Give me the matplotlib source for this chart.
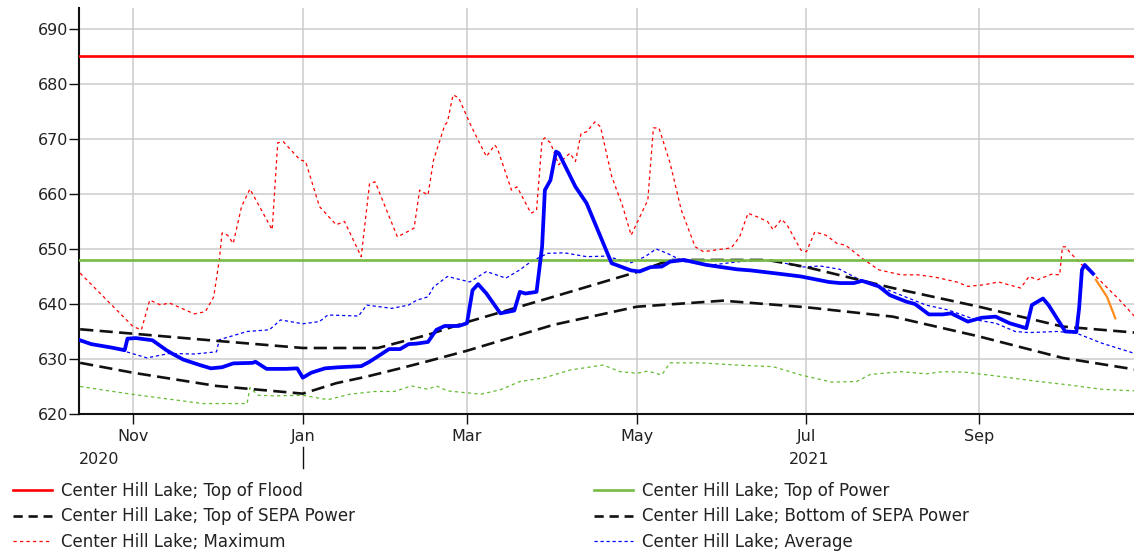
import matplotlib
matplotlib.use("Agg")
import matplotlib.pyplot as plt
import matplotlib.dates as mdates
import pandas as pd
from matplotlib.lines import Line2D
from matplotlib.transforms import blended_transform_factory

# ---------------- data ----------------
top_of_flood = 685.0
top_of_power = 648.0

sepa_top_dates = ["2020-10-13", "2020-11-01", "2020-12-01", "2021-01-01", "2021-01-28",
                  "2021-02-15", "2021-03-01", "2021-04-01", "2021-05-01", "2021-05-13",
                  "2021-06-17", "2021-07-01", "2021-08-01", "2021-09-01", "2021-10-01", "2021-10-27"]
sepa_top_vals = [635.4, 634.6, 633.3, 632.0, 632.0,
                 634.4, 636.7, 641.3, 645.8, 648.0,
                 648.0, 646.7, 642.9, 639.5, 635.9, 634.8]

sepa_bot_dates = ["2020-10-13", "2020-11-01", "2020-12-01", "2021-01-01", "2021-01-13",
                  "2021-01-24", "2021-02-05", "2021-02-15", "2021-03-01", "2021-04-01",
                  "2021-05-01", "2021-06-01", "2021-07-01", "2021-08-01", "2021-09-01",
                  "2021-10-01", "2021-10-27"]
sepa_bot_vals = [629.3, 627.5, 625.1, 623.7, 625.6,
                 626.8, 628.3, 629.6, 631.5, 636.2,
                 639.5, 640.6, 639.4, 637.7, 634.1,
                 630.2, 628.1]

max_dates = ["2020-10-13", "2020-11-01", "2020-11-04", "2020-11-07", "2020-11-11", "2020-11-14",
             "2020-11-23", "2020-11-27", "2020-11-30", "2020-12-02", "2020-12-03", "2020-12-05",
             "2020-12-07", "2020-12-10", "2020-12-13", "2020-12-21", "2020-12-23", "2020-12-25",
             "2020-12-31", "2021-01-02", "2021-01-07", "2021-01-13", "2021-01-16", "2021-01-22",
             "2021-01-25", "2021-01-27", "2021-02-04", "2021-02-09", "2021-02-10", "2021-02-12",
             "2021-02-15", "2021-02-17", "2021-02-19", "2021-02-21", "2021-02-22", "2021-02-24",
             "2021-02-26", "2021-03-02", "2021-03-05", "2021-03-08", "2021-03-11", "2021-03-12",
             "2021-03-17", "2021-03-19", "2021-03-24", "2021-03-26", "2021-03-28", "2021-03-29",
             "2021-03-31", "2021-04-03", "2021-04-05", "2021-04-07", "2021-04-09", "2021-04-11",
             "2021-04-13", "2021-04-16", "2021-04-18", "2021-04-22", "2021-04-26", "2021-04-29",
             "2021-05-05", "2021-05-07", "2021-05-09", "2021-05-13", "2021-05-17", "2021-05-22",
             "2021-05-25", "2021-06-04", "2021-06-07", "2021-06-10", "2021-06-13", "2021-06-17",
             "2021-06-19", "2021-06-22", "2021-06-24", "2021-06-29", "2021-07-01", "2021-07-04",
             "2021-07-08", "2021-07-12", "2021-07-15", "2021-07-21", "2021-07-27", "2021-08-04",
             "2021-08-10", "2021-08-16", "2021-08-24", "2021-08-28", "2021-09-03", "2021-09-08",
             "2021-09-16", "2021-09-19", "2021-09-22", "2021-09-27", "2021-09-30", "2021-10-01",
             "2021-10-02", "2021-10-04", "2021-10-08", "2021-10-13", "2021-10-21", "2021-10-27"]
max_vals = [645.6, 635.9, 635.3, 640.7, 639.8, 640.2,
            638.2, 638.6, 641.3, 648.0, 652.9, 652.5,
            651.0, 657.7, 660.9, 653.5, 669.3, 669.5,
            666.2, 665.9, 657.7, 654.4, 655.0, 648.6,
            661.9, 662.2, 652.2, 653.5, 653.8, 660.7,
            659.8, 666.2, 669.3, 672.5, 673.1, 678.0,
            677.5, 672.9, 669.8, 666.8, 668.9, 668.2,
            660.7, 661.3, 656.5, 657.0, 669.8, 670.2,
            669.3, 665.3, 666.5, 667.4, 665.9, 671.0,
            671.3, 673.1, 672.2, 663.2, 657.7, 652.5,
            658.9, 672.0, 672.0, 665.6, 657.1, 650.4,
            649.5, 650.2, 652.2, 656.5, 655.9, 655.0,
            653.5, 655.4, 654.4, 649.8, 649.5, 653.1,
            652.5, 651.0, 650.7, 648.3, 646.2, 645.3,
            645.3, 644.9, 644.0, 643.2, 643.5, 644.0,
            642.9, 645.0, 644.4, 645.4, 645.3, 650.4,
            650.4, 649.2, 647.1, 645.0, 641.0, 637.7]

avg_dates = ["2020-10-13", "2020-10-25", "2020-11-06", "2020-11-14", "2020-11-23", "2020-12-01",
             "2020-12-02", "2020-12-12", "2020-12-20", "2020-12-24", "2021-01-01", "2021-01-07",
             "2021-01-10", "2021-01-21", "2021-01-24", "2021-02-02", "2021-02-08", "2021-02-11",
             "2021-02-15", "2021-02-17", "2021-02-22", "2021-03-02", "2021-03-08", "2021-03-15",
             "2021-03-20", "2021-03-24", "2021-03-30", "2021-04-05", "2021-04-13", "2021-04-20",
             "2021-04-25", "2021-04-29", "2021-05-04", "2021-05-08", "2021-05-12", "2021-05-18",
             "2021-05-28", "2021-06-07", "2021-06-14", "2021-06-21", "2021-06-29", "2021-07-06",
             "2021-07-13", "2021-07-19", "2021-07-27", "2021-08-04", "2021-08-13", "2021-08-21",
             "2021-08-31", "2021-09-07", "2021-09-14", "2021-09-19", "2021-09-29", "2021-10-06",
             "2021-10-15", "2021-10-27"]
avg_vals = [633.2, 632.0, 630.2, 631.0, 630.9, 631.3,
            633.5, 635.0, 635.3, 637.1, 636.4, 636.8,
            638.0, 637.8, 639.8, 639.2, 639.8, 640.7,
            641.3, 643.1, 645.0, 644.0, 645.9, 644.7,
            646.2, 647.7, 649.2, 649.3, 648.6, 648.7,
            648.0, 647.5, 648.6, 650.0, 649.2, 647.7,
            647.1, 647.7, 648.0, 647.7, 646.7, 646.9,
            646.3, 644.7, 643.2, 641.6, 639.8, 638.9,
            637.1, 636.5, 635.0, 634.8, 635.0, 634.7,
            632.9, 631.0]

min_dates = ["2020-10-13", "2020-10-30", "2020-11-14", "2020-11-26", "2020-12-12", "2020-12-13",
             "2020-12-16", "2020-12-22", "2021-01-01", "2021-01-10", "2021-01-18", "2021-01-27",
             "2021-02-03", "2021-02-09", "2021-02-15", "2021-02-18", "2021-02-22", "2021-03-06",
             "2021-03-13", "2021-03-20", "2021-03-29", "2021-04-07", "2021-04-19", "2021-04-25",
             "2021-05-01", "2021-05-05", "2021-05-10", "2021-05-13", "2021-05-24", "2021-06-06",
             "2021-06-19", "2021-06-29", "2021-07-10", "2021-07-19", "2021-07-24", "2021-08-04",
             "2021-08-13", "2021-08-19", "2021-08-27", "2021-09-09", "2021-09-21", "2021-10-03",
             "2021-10-15", "2021-10-27"]
min_vals = [625.0, 623.7, 622.7, 621.9, 621.9, 624.8,
            623.4, 623.3, 623.4, 622.6, 623.6, 624.1,
            624.1, 625.1, 624.5, 625.1, 624.2, 623.6,
            624.4, 625.9, 626.6, 628.0, 628.9, 627.7,
            627.4, 627.8, 627.1, 629.3, 629.3, 628.9,
            628.6, 627.1, 625.8, 625.9, 627.2, 627.7,
            627.3, 627.7, 627.6, 626.8, 626.0, 625.3,
            624.5, 624.2]

obs_dates = ["2020-10-13", "2020-10-17", "2020-10-24", "2020-10-29", "2020-10-30", "2020-11-02",
             "2020-11-08", "2020-11-13", "2020-11-15", "2020-11-19", "2020-11-25", "2020-11-29",
             "2020-12-03", "2020-12-07", "2020-12-14", "2020-12-15", "2020-12-19", "2020-12-26",
             "2020-12-30", "2021-01-01", "2021-01-04", "2021-01-09", "2021-01-14", "2021-01-18",
             "2021-01-22", "2021-01-25", "2021-02-01", "2021-02-05", "2021-02-08", "2021-02-11",
             "2021-02-15", "2021-02-18", "2021-02-21", "2021-02-26", "2021-03-01", "2021-03-03",
             "2021-03-05", "2021-03-08", "2021-03-13", "2021-03-16", "2021-03-18", "2021-03-20",
             "2021-03-22", "2021-03-26", "2021-03-28", "2021-03-29", "2021-03-31", "2021-04-02",
             "2021-04-03", "2021-04-09", "2021-04-13", "2021-04-20", "2021-04-22", "2021-04-29",
             "2021-05-02", "2021-05-06", "2021-05-10", "2021-05-13", "2021-05-18", "2021-05-26",
             "2021-06-06", "2021-06-11", "2021-06-21", "2021-06-29", "2021-07-09", "2021-07-13",
             "2021-07-18", "2021-07-21", "2021-07-27", "2021-07-31", "2021-08-06", "2021-08-09",
             "2021-08-14", "2021-08-19", "2021-08-22", "2021-08-28", "2021-09-02", "2021-09-07",
             "2021-09-12", "2021-09-18", "2021-09-20", "2021-09-24", "2021-09-26", "2021-10-02",
             "2021-10-06", "2021-10-07", "2021-10-08", "2021-10-09", "2021-10-12"]
obs_vals = [633.4, 632.7, 632.1, 631.6, 633.7, 633.8,
            633.4, 631.6, 631.0, 629.9, 628.9, 628.3,
            628.5, 629.2, 629.3, 629.5, 628.2, 628.2,
            628.3, 626.6, 627.5, 628.3, 628.5, 628.6,
            628.7, 629.5, 631.8, 631.8, 632.7, 632.8,
            633.1, 635.3, 636.0, 636.0, 636.5, 642.5,
            643.6, 641.9, 638.3, 638.6, 638.8, 642.2,
            641.9, 642.2, 650.4, 660.7, 662.5, 667.7,
            667.4, 661.3, 658.3, 649.8, 647.4, 646.1,
            645.9, 646.7, 646.8, 647.7, 648.0, 647.1,
            646.3, 646.1, 645.5, 645.0, 644.0, 643.8,
            643.8, 644.2, 643.2, 641.6, 640.4, 640.0,
            638.1, 638.1, 638.3, 636.8, 637.5, 637.7,
            636.5, 635.6, 639.8, 641.0, 639.8, 635.0,
            634.9, 639.3, 646.2, 647.1, 645.5]

fcst_dates = ["2021-10-13", "2021-10-17", "2021-10-20"]
fcst_vals = [644.4, 641.3, 637.4]

y_ticks = [620, 630, 640, 650, 660, 670, 680, 690]
x_start = "2020-10-12 14:00"
x_end = "2021-10-26 17:00"

legend_left = ["Center Hill Lake; Top of Flood", "Center Hill Lake; Top of SEPA Power",
               "Center Hill Lake; Maximum"]
legend_right = ["Center Hill Lake; Top of Power", "Center Hill Lake; Bottom of SEPA Power",
                "Center Hill Lake; Average"]

# ---------------- styles ----------------
RED = "#ff0000"
GREEN = "#77bb44"
GREEN_MIN = "#66bb33"
BLUE = "#0000ff"
BLACK = "#111111"
ORANGE = "#ff8c1a"

W, H = 1134, 555
fig = plt.figure(figsize=(W / 100, H / 100), dpi=100)
ax = fig.add_axes([79 / W, 1 - 414 / H, 1 - 79 / W, 406 / H])

D = pd.to_datetime
ax.grid(True, color="#cccccc", lw=1.1, zorder=0)
ax.set_axisbelow(True)

ax.plot(D(min_dates), min_vals, color=GREEN_MIN, lw=0.9, dashes=(2.6, 2.6), zorder=2)
ax.plot(D(avg_dates), avg_vals, color=BLUE, lw=0.9, dashes=(2.6, 2.2), zorder=3)
ax.plot(D(max_dates), max_vals, color=RED, lw=0.9, dashes=(2.6, 2.6), zorder=3)
ax.plot(D(sepa_bot_dates), sepa_bot_vals, color=BLACK, lw=1.9, dashes=(5.0, 2.4), zorder=4)
ax.plot(D(sepa_top_dates), sepa_top_vals, color=BLACK, lw=1.9, dashes=(5.0, 2.4), zorder=4)
ax.axhline(top_of_flood, color=RED, lw=1.9, zorder=4)
ax.axhline(top_of_power, color=GREEN, lw=1.9, zorder=4)
ax.plot(D(obs_dates), obs_vals, color=BLUE, lw=2.7, zorder=6, solid_joinstyle="round")
ax.plot(D(fcst_dates), fcst_vals, color=ORANGE, lw=1.6, zorder=6)

ax.set_xlim(D(x_start), D(x_end))
ax.set_ylim(620, 693.8)
ax.set_yticks(y_ticks)
ax.xaxis.set_major_locator(mdates.MonthLocator(bymonth=[1, 3, 5, 7, 9, 11]))
ax.xaxis.set_major_formatter(mdates.DateFormatter("%b"))

for s in ["top", "right"]:
    ax.spines[s].set_visible(False)
for s in ["left", "bottom"]:
    ax.spines[s].set_linewidth(1.5)
    ax.spines[s].set_color("#111111")
ax.tick_params(axis="both", direction="out", length=7, width=1.0, colors="#111111",
               labelsize=11.5, labelcolor="#222222")
ax.tick_params(axis="y", pad=1)
ax.tick_params(axis="x", pad=4)

# year labels
tr = blended_transform_factory(ax.transData, ax.transAxes)
ax.text(0.0, -0.111, "2020", transform=ax.transAxes, ha="left", va="center",
        fontsize=11.5, color="#222222")
ax.text(D("2021-07-02"), -0.111, "2021", transform=tr, ha="center", va="center",
        fontsize=11.5, color="#222222")
ax.plot([D("2021-01-01"), D("2021-01-01")], [-0.081, -0.133], transform=tr,
        color="#111111", lw=1.0, clip_on=False)

# legends
hl = [Line2D([], [], color=RED, lw=1.9),
      Line2D([], [], color=BLACK, lw=1.9, dashes=(3.5, 2.2)),
      Line2D([], [], color=RED, lw=0.9, dashes=(2.6, 2.6))]
hr = [Line2D([], [], color=GREEN, lw=1.9),
      Line2D([], [], color=BLACK, lw=1.9, dashes=(3.5, 2.2)),
      Line2D([], [], color=BLUE, lw=0.9, dashes=(2.6, 2.2))]
common = dict(frameon=False, fontsize=12, borderpad=0, borderaxespad=0,
              handlelength=2.35, handletextpad=0.55, labelspacing=0.44, labelcolor="#222222")
fig.legend(hl, legend_left, loc="upper left", bbox_to_anchor=(13 / W, 1 - 482 / H), **common)
fig.legend(hr, legend_right, loc="upper left", bbox_to_anchor=(594 / W, 1 - 482 / H), **common)

fig.savefig("out.png", dpi=100)
